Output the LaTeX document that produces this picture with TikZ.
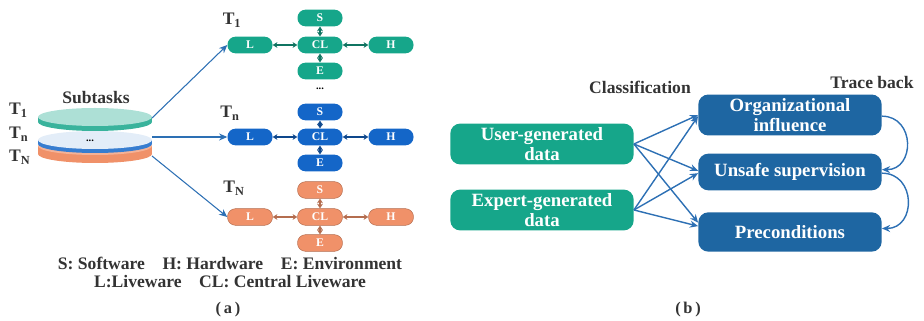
\documentclass[tikz,border=0pt]{standalone}
\usepackage{fontspec}
\setmainfont{Liberation Serif}
\usetikzlibrary{arrows.meta}

\definecolor{shelteal}{RGB}{22,166,138}
\definecolor{shelblue}{RGB}{20,102,200}
\definecolor{shelorange}{RGB}{240,145,105}
\definecolor{hfblue}{RGB}{30,102,162}
\definecolor{arrowblue}{RGB}{45,112,180}

\begin{document}
\begin{tikzpicture}[x=0.03cm,y=-0.03cm,
		elem/.style={rounded corners=0.24cm,minimum width=1.35cm,minimum height=0.5cm,inner sep=0pt,text=white,font=\fontsize{10}{12}\selectfont\bfseries},
		link/.style={<->,>={Stealth[length=4pt,width=5pt]},line width=1.5pt},
		box/.style={rounded corners=0.3cm,minimum width=5.5cm,minimum height=1.18cm,align=center,text=white,font=\fontsize{16}{17}\selectfont\bfseries},
		flow/.style={->,>={Stealth[length=7pt,width=6pt]},line width=1.2pt,draw=arrowblue},
		lbl/.style={font=\fontsize{15}{16}\selectfont\bfseries,text=black!80}]
			
			\useasboundingbox (0,0) rectangle (924,321);
			
			% Subtasks disc stack
			\fill[shelorange] (95,154) ellipse [x radius=57,y radius=9];
			\fill[shelorange] (38,146) rectangle (152,154);
			\fill[shelorange!70!white] (95,146) ellipse [x radius=57,y radius=9];
			\fill[shelblue!85] (95,144) ellipse [x radius=57,y radius=9];
			\fill[shelblue!85] (38,140) rectangle (152,144);
			\fill[shelblue!12] (95,140) ellipse [x radius=57,y radius=9];
			\fill[shelteal!85] (95,122) ellipse [x radius=57,y radius=9];
			\fill[shelteal!85] (38,117) rectangle (152,122);
			\fill[shelteal!35] (95,117) ellipse [x radius=57,y radius=9];
			\node[font=\bfseries\small] (dots0) at (90,141) {...};
			\node[lbl] (sub) at (96,98) {Subtasks};
			\node[lbl,anchor=west] (ta) at (5,110) {T\textsubscript{1}};
			\node[lbl,anchor=west] (tb) at (5,134) {T\textsubscript{n}};
			\node[lbl,anchor=west] (tc) at (5,157) {T\textsubscript{N}};
			
			% Start points on the disc rim
			\coordinate (d1) at (152,118);
			\coordinate (d2) at (152,137);
			\coordinate (d3) at (152,156);
			
			% SHEL group T_1
			\node[lbl] (t1) at (232,20) {T\textsubscript{1}};
			\node[elem,fill=shelteal] (L1) at (250,45) {L};
			\node[elem,fill=shelteal] (CL1) at (320,45) {CL};
			\node[elem,fill=shelteal] (H1) at (391,45) {H};
			\node[elem,fill=shelteal] (S1) at (320,18) {S};
			\node[elem,fill=shelteal] (E1) at (320,71) {E};
			\draw[link,shelteal!70!black] (L1) -- (CL1);
			\draw[link,shelteal!70!black] (CL1) -- (H1);
			\draw[link,shelteal!70!black] (S1) -- (CL1);
			\draw[link,shelteal!70!black] (CL1) -- (E1);
			\node[font=\bfseries\small] (dots1) at (320,89) {...};
			
			% SHEL group T_n
			\node[lbl] (tn) at (230,113) {T\textsubscript{n}};
			\node[elem,fill=shelblue] (L2) at (250,137) {L};
			\node[elem,fill=shelblue] (CL2) at (320,137) {CL};
			\node[elem,fill=shelblue] (H2) at (391,137) {H};
			\node[elem,fill=shelblue] (S2) at (320,112) {S};
			\node[elem,fill=shelblue] (E2) at (320,163) {E};
			\draw[link,shelblue!70!black] (L2) -- (CL2);
			\draw[link,shelblue!70!black] (CL2) -- (H2);
			\draw[link,shelblue!70!black] (S2) -- (CL2);
			\draw[link,shelblue!70!black] (CL2) -- (E2);
			
			% SHEL group T_N
			\node[lbl] (tN) at (234,188) {T\textsubscript{N}};
			\node[elem,fill=shelorange,draw=shelorange!75!black] (L3) at (250,217) {L};
			\node[elem,fill=shelorange,draw=shelorange!75!black] (CL3) at (320,217) {CL};
			\node[elem,fill=shelorange,draw=shelorange!75!black] (H3) at (391,217) {H};
			\node[elem,fill=shelorange,draw=shelorange!75!black] (S3) at (320,190) {S};
			\node[elem,fill=shelorange,draw=shelorange!75!black] (E3) at (320,243) {E};
			\draw[link,shelorange!75!black] (L3) -- (CL3);
			\draw[link,shelorange!75!black] (CL3) -- (H3);
			\draw[link,shelorange!75!black] (S3) -- (CL3);
			\draw[link,shelorange!75!black] (CL3) -- (E3);
			
			% Disc to groups
			\draw[flow,line width=0.9pt] (d1) -- (L1.west);
			\draw[flow,line width=0.9pt] (d2) -- (L2.west);
			\draw[flow,line width=0.9pt] (d3) -- (L3.west);
			
			% Legend and caption (a)
			\node[lbl] (leg1) at (230,263) {S: Software\quad H: Hardware\quad E: Environment};
			\node[lbl] (leg2) at (230,282) {L:Liveware\quad CL: Central Liveware};
			\node[lbl,font=\fontsize{14}{15}\selectfont\bfseries] (capa) at (228,310) {(\,a\,)};
			
			% Classification boxes
			\node[lbl] (cls) at (640,87) {Classification};
			\node[lbl] (trb) at (872,82) {Trace back};
			\node[box,fill=shelteal,minimum height=1.14cm] (user) at (542,144) {User-generated\\data};
			\node[box,fill=shelteal] (expert) at (542,210) {Expert-generated\\data};
			\node[box,fill=hfblue] (org) at (790,115) {Organizational\\influence};
			\node[box,fill=hfblue,minimum height=1.1cm] (uns) at (790,172) {Unsafe supervision};
			\node[box,fill=hfblue] (pre) at (790,232) {Preconditions};
			
			% Data to factors
			\draw[flow] (user.east) -- (org.west);
			\draw[flow] (user.east) -- ([yshift=1pt]uns.west);
			\draw[flow] (user.east) -- ([yshift=8pt]pre.west);
			\draw[flow] (expert.east) -- ([yshift=-1pt]org.west);
			\draw[flow] (expert.east) -- ([yshift=-1pt]uns.west);
			\draw[flow] (expert.east) -- ([yshift=5pt]pre.west);
			
			% Trace back curves
			\draw[flow] ([yshift=-1pt]org.east) to[out=0,in=0,looseness=1.6] ([yshift=2pt]uns.east);
			\draw[flow] ([yshift=-1pt]uns.east) to[out=0,in=0,looseness=1.6] ([yshift=3pt]pre.east);
			
			\node[lbl,font=\fontsize{14}{15}\selectfont\bfseries] (capb) at (688,310) {(\,b\,)};
			
		\end{tikzpicture}
\end{document}
